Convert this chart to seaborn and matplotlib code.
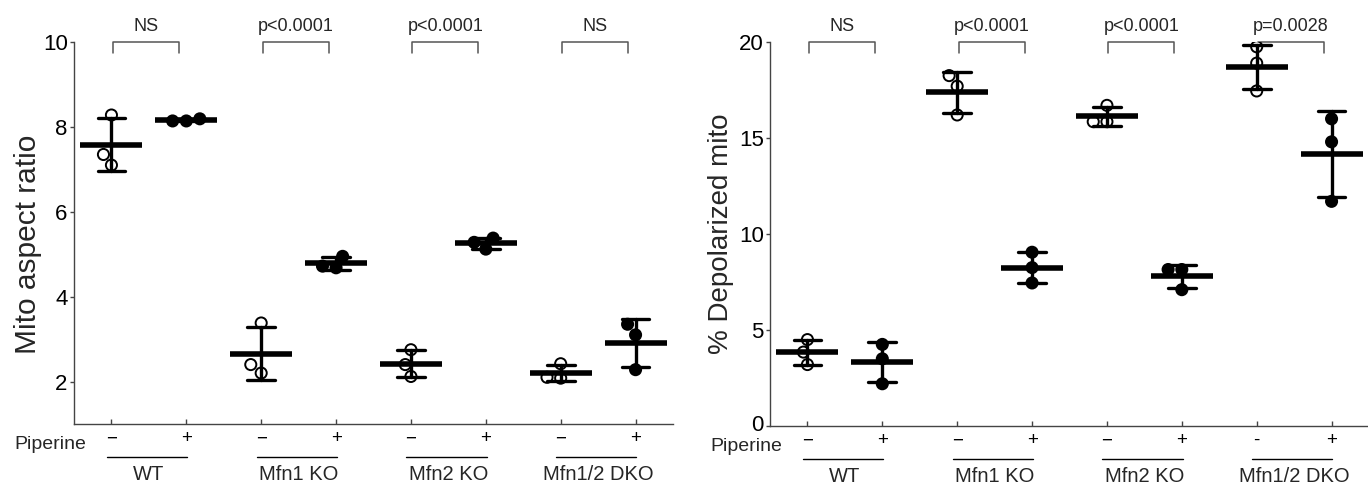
import numpy as np
import pandas as pd
import matplotlib
matplotlib.use("Agg")
import matplotlib.pyplot as plt
import matplotlib.transforms as mtrans
import seaborn as sns

# ---------------- data ----------------
groups = ["WT", "Mfn1 KO", "Mfn2 KO", "Mfn1/2 DKO"]
treat = ["−", "+"]

aspect_minus = [[8.28, 7.35, 7.10], [3.38, 2.40, 2.20], [2.75, 2.40, 2.12], [2.42, 2.08, 2.10]]
aspect_plus = [[8.14, 8.19, 8.14], [4.95, 4.72, 4.68], [5.38, 5.28, 5.12], [3.35, 3.10, 2.28]]

pct_minus = [[4.50, 3.85, 3.20], [18.25, 17.70, 16.20], [16.70, 15.85, 15.85], [19.75, 18.90, 17.45]]
pct_plus = [[4.25, 3.50, 2.20], [9.05, 8.25, 7.45], [8.15, 8.15, 7.10], [16.00, 14.80, 11.70]]

left_pvals = ["NS", "p<0.0001", "p<0.0001", "NS"]
right_pvals = ["NS", "p<0.0001", "p<0.0001", "p=0.0028"]

left_ticklabels = ["−", "+", "−", "+", "−", "+", "−", "+"]
right_ticklabels = ["−", "+", "−", "+", "−", "+", "-", "+"]

left_ylabel = "Mito aspect ratio"
right_ylabel = "% Depolarized mito"
left_yticks = [2, 4, 6, 8, 10]
right_yticks = [0, 5, 10, 15, 20]


def build(minus, plus):
    rows = []
    for g, m, p in zip(groups, minus, plus):
        for v in m:
            rows.append((f"{g}|−", "−", v))
        for v in p:
            rows.append((f"{g}|+", "+", v))
    return pd.DataFrame(rows, columns=["cond", "treat", "value"])


order = [f"{g}|{t}" for g in groups for t in treat]

# ---------------- style ----------------
sns.set_style("ticks")
plt.rcParams["font.family"] = ["Liberation Sans", "DejaVu Sans"]
AX_COL = "#444444"
plt.rcParams["axes.edgecolor"] = AX_COL
plt.rcParams["xtick.color"] = AX_COL
plt.rcParams["ytick.color"] = AX_COL
plt.rcParams["xtick.labelcolor"] = "black"
plt.rcParams["ytick.labelcolor"] = "black"

W, H = 1368, 483
fig = plt.figure(figsize=(W / 100, H / 100), dpi=100)

ax1 = fig.add_axes([74 / W, (H - 424) / H, 599 / W, 382 / H])
ax2 = fig.add_axes([770 / W, (H - 426) / H, 599 / W, 384 / H])


def draw(ax, df, ylim, yticks, ylabel, ylab_size, ticklabels, pvals, ylab_xy,
         raise_zero=False):
    sns.swarmplot(data=df, x="cond", y="value", order=order, hue="treat",
                  hue_order=treat, palette={"−": "white", "+": "black"},
                  edgecolor="black", linewidth=1.4, size=8, legend=False,
                  ax=ax, zorder=3)
    sns.pointplot(data=df, x="cond", y="value", order=order, color="black",
                  errorbar="sd", capsize=0.37, markers="_", linestyle="none",
                  markersize=45, markeredgewidth=4.0,
                  err_kws={"linewidth": 2.4}, ax=ax)
    for ln in ax.lines:
        ln.set_zorder(4)
    ax.set_xlim(-0.5, 7.5)
    ax.set_ylim(*ylim)
    ax.set_yticks(yticks)
    ax.set_yticklabels([str(t) for t in yticks], fontsize=16)
    ax.set_xticks(range(len(order)))
    ax.set_xticklabels(ticklabels, fontsize=13.5)
    ax.set_xlabel("")
    ax.set_ylabel(ylabel, fontsize=ylab_size)
    ax.yaxis.set_label_coords(*ylab_xy)
    ax.tick_params(axis="x", direction="in", length=3.6, width=1, pad=4.5)
    ax.tick_params(axis="y", direction="out", length=3, width=1, pad=1.5)
    sns.despine(ax=ax)
    for s in ("left", "bottom"):
        ax.spines[s].set_linewidth(1.0)

    if raise_zero:
        # the "0" label sits slightly above its tick in the original
        lab0 = ax.get_yticklabels()[0]
        lab0.set_transform(lab0.get_transform()
                           + mtrans.ScaledTranslation(0, 3 / 100, fig.dpi_scale_trans))

    blend = mtrans.blended_transform_factory(ax.transData, ax.transAxes)
    leg = 10.7 / ax.bbox.height
    # significance brackets
    for i, lab in enumerate(pvals):
        x0, x1 = 2 * i + 0.02, 2 * i + 0.9
        ax.plot([x0, x0, x1, x1], [1 - leg, 1, 1, 1 - leg], color="#555555",
                lw=1.1, transform=blend, clip_on=False)
        ax.annotate(lab, xy=((x0 + x1) / 2, 1), xycoords=blend,
                    xytext=(0, 11.5), textcoords="offset points",
                    ha="center", va="center", fontsize=13)
    # group lines & labels
    line_tr = mtrans.offset_copy(blend, fig=fig, y=-23.5, units="points")
    for i, g in enumerate(groups):
        ax.plot([2 * i - 0.06, 2 * i + 1.01], [0, 0], color="black", lw=1.0,
                transform=line_tr, clip_on=False)
        ax.annotate(g, xy=(2 * i + 0.5, 0), xycoords=blend,
                    xytext=(0, -36), textcoords="offset points",
                    ha="center", va="center", fontsize=14.5)
    ax.annotate("Piperine", xy=(-0.33, 0), xycoords=blend,
                xytext=(0, -14.5), textcoords="offset points",
                ha="right", va="center", fontsize=14)


draw(ax1, build(aspect_minus, aspect_plus), (1, 10), left_yticks, left_ylabel, 21.5,
     left_ticklabels, left_pvals, (-0.053, 0.47))
draw(ax2, build(pct_minus, pct_plus), (0, 20), right_yticks, right_ylabel, 20,
     right_ticklabels, right_pvals, (-0.06, 0.5), raise_zero=True)

fig.savefig("out.png", dpi=100)
